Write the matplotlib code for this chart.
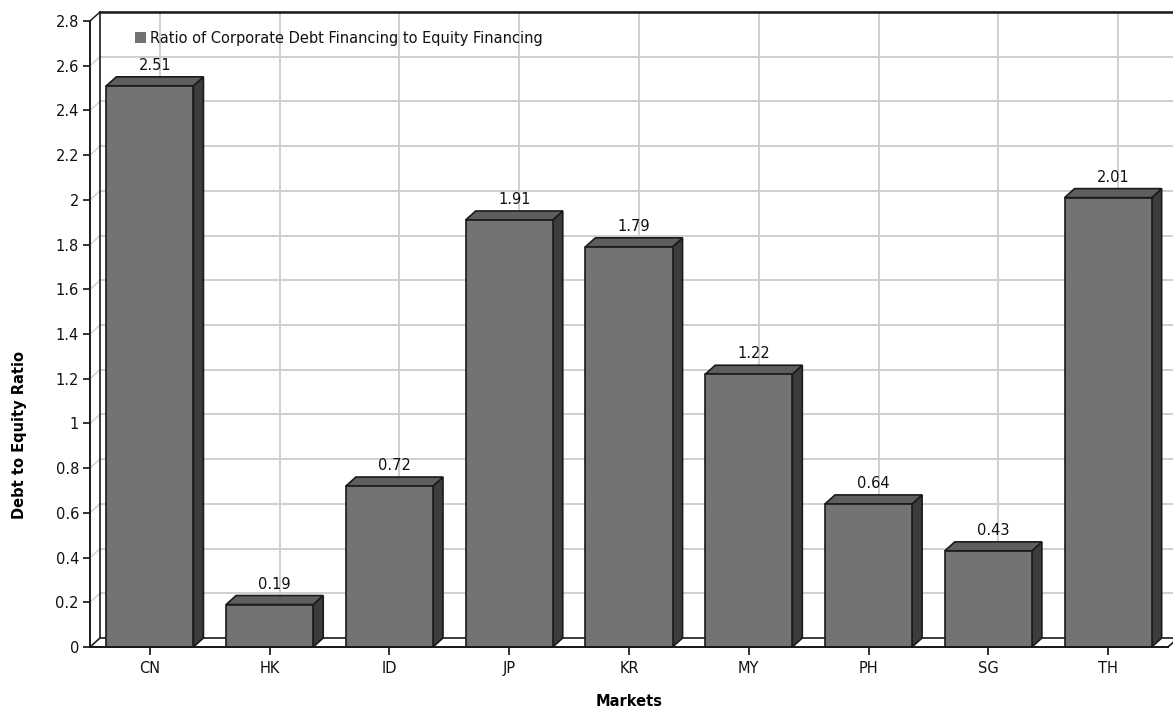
import numpy as np
import matplotlib.pyplot as plt
from matplotlib.patches import Polygon, Rectangle

markets = ["CN", "HK", "ID", "JP", "KR", "MY", "PH", "SG", "TH"]
ratios = [2.51, 0.19, 0.72, 1.91, 1.79, 1.22, 0.64, 0.43, 2.01]
y_ticks = np.arange(0, 2.81, 0.2)
legend_text = "Ratio of Corporate Debt Financing to Equity Financing"

W, H = 1173, 713
fig = plt.figure(figsize=(W / 100, H / 100), dpi=100)
fig.patch.set_facecolor("white")

# front plane in pixels
x0, x1 = 90, 1168
y0, y1 = 647, 21
ax = fig.add_axes([x0 / W, (H - y0) / H, (x1 - x0) / W, (y0 - y1) / H])
ax.set_xlim(-0.5, 8.5)
ax.set_ylim(0, 2.8)
ax.set_facecolor("none")

# depth offset (pixels -> data units)
px_x = 9.0 / (x1 - x0)
px_y = 2.8 / (y0 - y1)
dx = 10 * px_x
dy = 9 * px_y

grid_c = "#cfcfcf"
edge_c = "#1a1a1a"

# back wall grid
for t in y_ticks[1:]:
    ax.plot([-0.5 + dx, 8.5 + dx + 0.05], [t + dy, t + dy], color=grid_c, lw=1.4,
            zorder=1, clip_on=False)
    ax.plot([-0.5, -0.5 + dx], [t, t + dy], color=grid_c, lw=1.0, zorder=1, clip_on=False)
for i in range(len(markets)):
    ax.plot([i + dx, i + dx], [dy, 2.8 + dy], color=grid_c, lw=1.4, zorder=1, clip_on=False)

# wall frame and floor
ax.plot([-0.5 + dx, -0.5 + dx], [dy, 2.8 + dy], color=edge_c, lw=1.2, zorder=2, clip_on=False)
ax.plot([-0.5 + dx, 8.5 + dx + 0.05], [2.8 + dy, 2.8 + dy], color=edge_c, lw=1.8, zorder=2,
        clip_on=False)
ax.plot([-0.5, -0.5 + dx], [2.8, 2.8 + dy], color=edge_c, lw=1.0, zorder=2, clip_on=False)
floor = Polygon([(-0.5, 0), (-0.5 + dx, dy), (8.5 + dx, dy), (8.5, 0)], closed=True,
                facecolor="white", edgecolor=edge_c, lw=1.2, zorder=2, clip_on=False)
ax.add_patch(floor)

# 3d bars
bw = 0.727
for i, v in enumerate(ratios):
    l, r = i - bw / 2, i + bw / 2
    side = Polygon([(r, 0), (r + dx, dy), (r + dx, v + dy), (r, v)], closed=True,
                   facecolor="#3c3c3c", edgecolor=edge_c, lw=1.2, zorder=3, clip_on=False)
    top = Polygon([(l, v), (l + dx, v + dy), (r + dx, v + dy), (r, v)], closed=True,
                  facecolor="#5e5e5e", edgecolor=edge_c, lw=1.2, zorder=3, clip_on=False)
    front = Rectangle((l, 0), bw, v, facecolor="#737373", edgecolor=edge_c, lw=1.2,
                      zorder=4, clip_on=False)
    ax.add_patch(side)
    ax.add_patch(top)
    ax.add_patch(front)
    ax.text(i + dx / 2, v + dy + 4 * px_y, f"{v:.2f}", ha="center", va="bottom",
            fontsize=10.5, color="#111111", zorder=5)

# axes
for s in ["top", "right"]:
    ax.spines[s].set_visible(False)
ax.spines["left"].set_color(edge_c)
ax.spines["bottom"].set_color(edge_c)
ax.spines["left"].set_linewidth(1.4)
ax.spines["bottom"].set_linewidth(1.4)
ax.spines["left"].set_zorder(6)
ax.spines["bottom"].set_zorder(6)

ax.set_yticks(y_ticks)
ax.set_yticklabels([f"{t:g}" for t in np.round(y_ticks, 1)])
ax.set_xticks(range(len(markets)))
ax.set_xticklabels(markets)
ax.tick_params(axis="y", direction="out", length=5, width=1.2, labelsize=10.5, pad=3,
               colors="#111111")
ax.tick_params(axis="x", direction="out", length=6, width=1.2, labelsize=10.5, pad=4,
               colors="#111111")

fig.text(20 / W, 1 - 435 / H, "Debt to Equity Ratio", rotation=90, ha="center", va="center",
         fontsize=10.5, fontweight="bold")
fig.text(629 / W, 1 - 702 / H, "Markets", ha="center", va="center", fontsize=10.5,
         fontweight="bold")

# legend
fig.patches.append(Rectangle((135 / W, 1 - 43 / H), 11 / W, 11 / H, transform=fig.transFigure,
                             facecolor="#737373", edgecolor="none", zorder=7))
fig.text(150 / W, 1 - 38 / H, legend_text, ha="left", va="center", fontsize=10.5,
         color="#111111")

fig.savefig("out.png", dpi=100)
